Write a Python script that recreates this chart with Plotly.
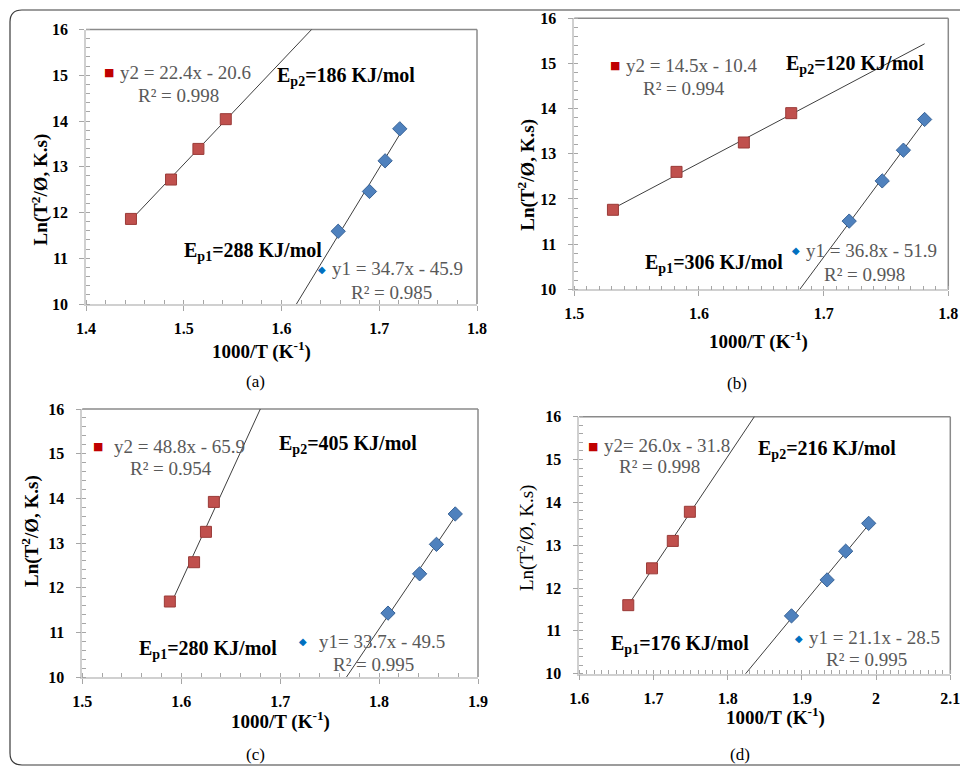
import numpy as np
import plotly.graph_objects as go

W, H = 960, 766

# ---------------- data ----------------
panels = ["a", "b", "c", "d"]

# peak 2 (red squares) and peak 1 (blue diamonds): x = 1000/T, y = Ln(T^2/phi)
x2_a = [1.446, 1.487, 1.515, 1.543]
y2_a = [11.86, 12.72, 13.39, 14.04]
x1_a = [1.658, 1.690, 1.706, 1.721]
y1_a = [11.59, 12.46, 13.13, 13.83]

x2_b = [1.531, 1.582, 1.636, 1.674]
y2_b = [11.76, 12.60, 13.25, 13.90]
x1_b = [1.7205, 1.747, 1.764, 1.781]
y1_b = [11.51, 12.40, 13.08, 13.76]

x2_c = [1.5885, 1.613, 1.625, 1.633]
y2_c = [11.69, 12.57, 13.25, 13.92]
x1_c = [1.809, 1.841, 1.858, 1.877]
y1_c = [11.43, 12.31, 12.97, 13.65]

x2_d = [1.666, 1.698, 1.726, 1.749]
y2_d = [11.60, 12.46, 13.10, 13.78]
x1_d = [1.886, 1.934, 1.959, 1.990]
y1_d = [11.35, 12.19, 12.86, 13.51]

# trendline extents (forecast, clipped by the axes)
trend2_a = [1.446, 1.70]
trend1_a = [1.58, 1.721]
trend2_b = [1.531, 1.781]
trend1_b = [1.65, 1.781]
trend2_c = [1.5885, 1.72]
trend1_c = [1.74, 1.877]
trend2_d = [1.666, 1.90]
trend1_d = [1.78, 1.990]

# axis ranges / ticks
xrange_a, xrange_b, xrange_c, xrange_d = [1.4, 1.8], [1.5, 1.8], [1.5, 1.9], [1.6, 2.1]
xminor_a, xminor_b, xminor_c, xminor_d = 0.02, 0.01, 0.02, 0.01
yrange = [10, 16]

# labels
eq2_a, r2_2a, eq1_a, r2_1a = "y2 = 22.4x - 20.6", "R² = 0.998", "y1 = 34.7x - 45.9", "R² = 0.985"
eq2_b, r2_2b, eq1_b, r2_1b = "y2 = 14.5x - 10.4", "R² = 0.994", "y1 = 36.8x - 51.9", "R² = 0.998"
eq2_c, r2_2c, eq1_c, r2_1c = "y2 = 48.8x - 65.9", "R² = 0.954", "y1= 33.7x - 49.5", "R² = 0.995"
eq2_d, r2_2d, eq1_d, r2_1d = "y2= 26.0x - 31.8", "R² = 0.998", "y1 = 21.1x - 28.5", "R² = 0.995"
ep2_a, ep1_a = "186", "288"
ep2_b, ep1_b = "120", "306"
ep2_c, ep1_c = "405", "280"
ep2_d, ep1_d = "216", "176"
captions = ["(a)", "(b)", "(c)", "(d)"]

# ---------------- layout helpers ----------------
def px(x):
    return x / W

def py(y):
    return 1 - y / H

SERIF = "Liberation Serif"
RED, RED_EDGE = "#c0504d", "#9a3b38"
BLUE, BLUE_EDGE = "#4f81bd", "#386397"
KEY_RED, KEY_BLUE = "#c00000", "#0070c0"
TXT_GRAY = "#595959"
TICK_GRAY = "#a6a6a6"

# pixel boxes of the four plot areas: (left, right, top, bottom)
boxes = {
    "a": (86, 477, 29.5, 304),
    "b": (574.3, 948.3, 18.3, 289.3),
    "c": (82.3, 478, 409, 677),
    "d": (579.3, 950.3, 416.7, 673.7),
}

data = {
    "a": (x2_a, y2_a, x1_a, y1_a, trend2_a, trend1_a, xrange_a, xminor_a),
    "b": (x2_b, y2_b, x1_b, y1_b, trend2_b, trend1_b, xrange_b, xminor_b),
    "c": (x2_c, y2_c, x1_c, y1_c, trend2_c, trend1_c, xrange_c, xminor_c),
    "d": (x2_d, y2_d, x1_d, y1_d, trend2_d, trend1_d, xrange_d, xminor_d),
}

fig = go.Figure()
layout = dict(
    width=W, height=H, margin=dict(l=0, r=0, t=0, b=0, pad=0, autoexpand=False),
    paper_bgcolor="white", plot_bgcolor="white", showlegend=False,
    font=dict(family=SERIF),
)
annotations = []
shapes = []

for i, p in enumerate(panels):
    n = "" if i == 0 else str(i + 1)
    xa, ya = "x" + n, "y" + n
    x2, y2, x1, y1, t2, t1, xr, xminor = data[p]
    l, r, t, b = boxes[p]

    # trendlines from least-squares fits
    for xs, ys, tx in ((x2, y2, t2), (x1, y1, t1)):
        k, c0 = np.polyfit(xs, ys, 1)
        tx = np.array(tx)
        fig.add_trace(go.Scatter(x=tx, y=k * tx + c0, mode="lines",
                                 line=dict(color="#3f3f3f", width=1),
                                 xaxis=xa, yaxis=ya, hoverinfo="skip"))
    fig.add_trace(go.Scatter(x=x2, y=y2, mode="markers", xaxis=xa, yaxis=ya,
                             marker=dict(symbol="square", size=11, color=RED,
                                         line=dict(color=RED_EDGE, width=1))))
    fig.add_trace(go.Scatter(x=x1, y=y1, mode="markers", xaxis=xa, yaxis=ya,
                             marker=dict(symbol="diamond", size=11, color=BLUE,
                                         line=dict(color=BLUE_EDGE, width=1))))

    tickfont = dict(family=SERIF, size=16, color="black", weight="bold")
    layout["xaxis" + n] = dict(
        domain=[px(l), px(r)], anchor=ya, range=xr, autorange=False, automargin=False,
        tickmode="linear", tick0=xr[1], dtick=0.1, ticklabeloverflow="allow",
        ticks="outside", ticklen=5, tickcolor=TICK_GRAY, tickwidth=1,
        minor=dict(dtick=xminor, ticks="inside", ticklen=4, tickcolor=TICK_GRAY, tickwidth=1, showgrid=False),
        showline=True, linecolor="#d0d0d0", linewidth=1.5,
        showgrid=False, zeroline=False, tickfont=tickfont, ticklabelstandoff=4,
    )
    layout["yaxis" + n] = dict(
        domain=[py(b), py(t)], anchor=xa, range=yrange, autorange=False, automargin=False,
        tickmode="linear", tick0=10, dtick=1, ticklabeloverflow="allow",
        ticks="outside", ticklen=5, tickcolor=TICK_GRAY, tickwidth=1,
        minor=dict(dtick=0.2, ticks="inside", ticklen=4, tickcolor=TICK_GRAY, tickwidth=1, showgrid=False),
        showline=True, linecolor="#d0d0d0", linewidth=1.5,
        showgrid=False, zeroline=False, tickfont=tickfont, ticklabelstandoff=8,
    )
    # darker top and right plot-area border
    for (x0, y0, x1_, y1_) in ((0, 1, 1, 1), (1, 0, 1, 1)):
        shapes.append(dict(type="line", xref=xa + " domain", yref=ya + " domain",
                           x0=x0, y0=y0, x1=x1_, y1=y1_,
                           line=dict(color="#8a8a8a", width=1.5), layer="below"))

# ---------------- text annotations (pixel positions) ----------------
def ann(text, x, y, size=19, color="black", xanchor="left", angle=0, bold=False, family=SERIF):
    font = dict(family=family, size=size, color=color)
    if bold:
        font["weight"] = "bold"
    annotations.append(dict(text=text, x=px(x), y=py(y), xref="paper", yref="paper",
                            xanchor=xanchor, yanchor="middle", showarrow=False,
                            textangle=angle, font=font, borderpad=0))

def key(symbol, color, x, y, size):
    annotations.append(dict(text=symbol, x=px(x), y=py(y), xref="paper", yref="paper",
                            xanchor="center", yanchor="middle", showarrow=False,
                            font=dict(family="DejaVu Sans", size=size, color=color)))

labels = {
    "a": (eq2_a, r2_2a, eq1_a, r2_1a, ep2_a, ep1_a),
    "b": (eq2_b, r2_2b, eq1_b, r2_1b, ep2_b, ep1_b),
    "c": (eq2_c, r2_2c, eq1_c, r2_1c, ep2_c, ep1_c),
    "d": (eq2_d, r2_2d, eq1_d, r2_1d, ep2_d, ep1_d),
}
pos = {
    "a": dict(k2=(109.3, 72.7), e2=(119, 72.2), r2=(137, 95.5), k1=(321.7, 269.3), e1=(331, 268.8),
              r1=(350, 292.5), ep2=(276, 76), ep1=(182.7, 251), xt=(261, 350.5), yt=(39.5, 190),
              cap=(255.8, 381.5), ytb=True),
    "b": dict(k2=(615, 65.7), e2=(624.5, 65.2), r2=(641.5, 88), k1=(796, 250.7), e1=(805, 250.2),
              r1=(822.5, 274), ep2=(785, 64.5), ep1=(644, 263), xt=(758, 340), yt=(526.7, 175),
              cap=(736.7, 383), ytb=True),
    "c": dict(k2=(98.3, 446.7), e2=(113, 446.2), r2=(129.3, 468), k1=(303.3, 641.7), e1=(318, 641.2),
              r1=(331.5, 664), ep2=(277.7, 445), ep1=(137.7, 649), xt=(280, 720), yt=(30, 531),
              cap=(255, 754), ytb=True),
    "d": dict(k2=(593.3, 446), e2=(603, 445.5), r2=(617.7, 466.5), k1=(799.3, 638.3), e1=(808, 637.8),
              r1=(825, 659.5), ep2=(756.7, 449), ep1=(610, 644.5), xt=(775.5, 716.7), yt=(525, 538),
              cap=(740, 754), ytb=False),
}

for i, p in enumerate(panels):
    e2, rr2, e1, rr1, ep2, ep1 = labels[p]
    q = pos[p]
    key("■", KEY_RED, *q["k2"], size=11)
    key("◆", KEY_BLUE, *q["k1"], size=10)
    ann(e2, *q["e2"], color=TXT_GRAY)
    ann(rr2, *q["r2"], color=TXT_GRAY)
    ann(e1, *q["e1"], color=TXT_GRAY)
    ann(rr1, *q["r1"], color=TXT_GRAY)
    ann("E<sub>p2</sub>=" + ep2 + " KJ/mol", *q["ep2"], size=20, bold=True)
    ann("E<sub>p1</sub>=" + ep1 + " KJ/mol", *q["ep1"], size=20, bold=True)
    ann("1000/T (K<sup>-1</sup>)", *q["xt"], size=19, xanchor="center", bold=True)
    ann("Ln(T<sup>2</sup>/Ø, K.s)", *q["yt"], size=19, xanchor="center", angle=-90, bold=q["ytb"])
    ann(captions[i], *q["cap"], size=17, xanchor="center")

# outer rounded frame
rx, ry = 12 / W, 12 / H
x0f, x1f, y0f, y1f = px(10), px(975), py(765), py(10)
path = (f"M {x0f + rx},{y1f} L {x1f - rx},{y1f} Q {x1f},{y1f} {x1f},{y1f - ry} "
        f"L {x1f},{y0f + ry} Q {x1f},{y0f} {x1f - rx},{y0f} L {x0f + rx},{y0f} "
        f"Q {x0f},{y0f} {x0f},{y0f + ry} L {x0f},{y1f - ry} Q {x0f},{y1f} {x0f + rx},{y1f} Z")
shapes.append(dict(type="path", xref="paper", yref="paper", path=path,
                   line=dict(color="#3a3a3a", width=1.2), layer="below"))

layout["annotations"] = annotations
layout["shapes"] = shapes
fig.update_layout(**layout)
fig.write_html("out.html")
